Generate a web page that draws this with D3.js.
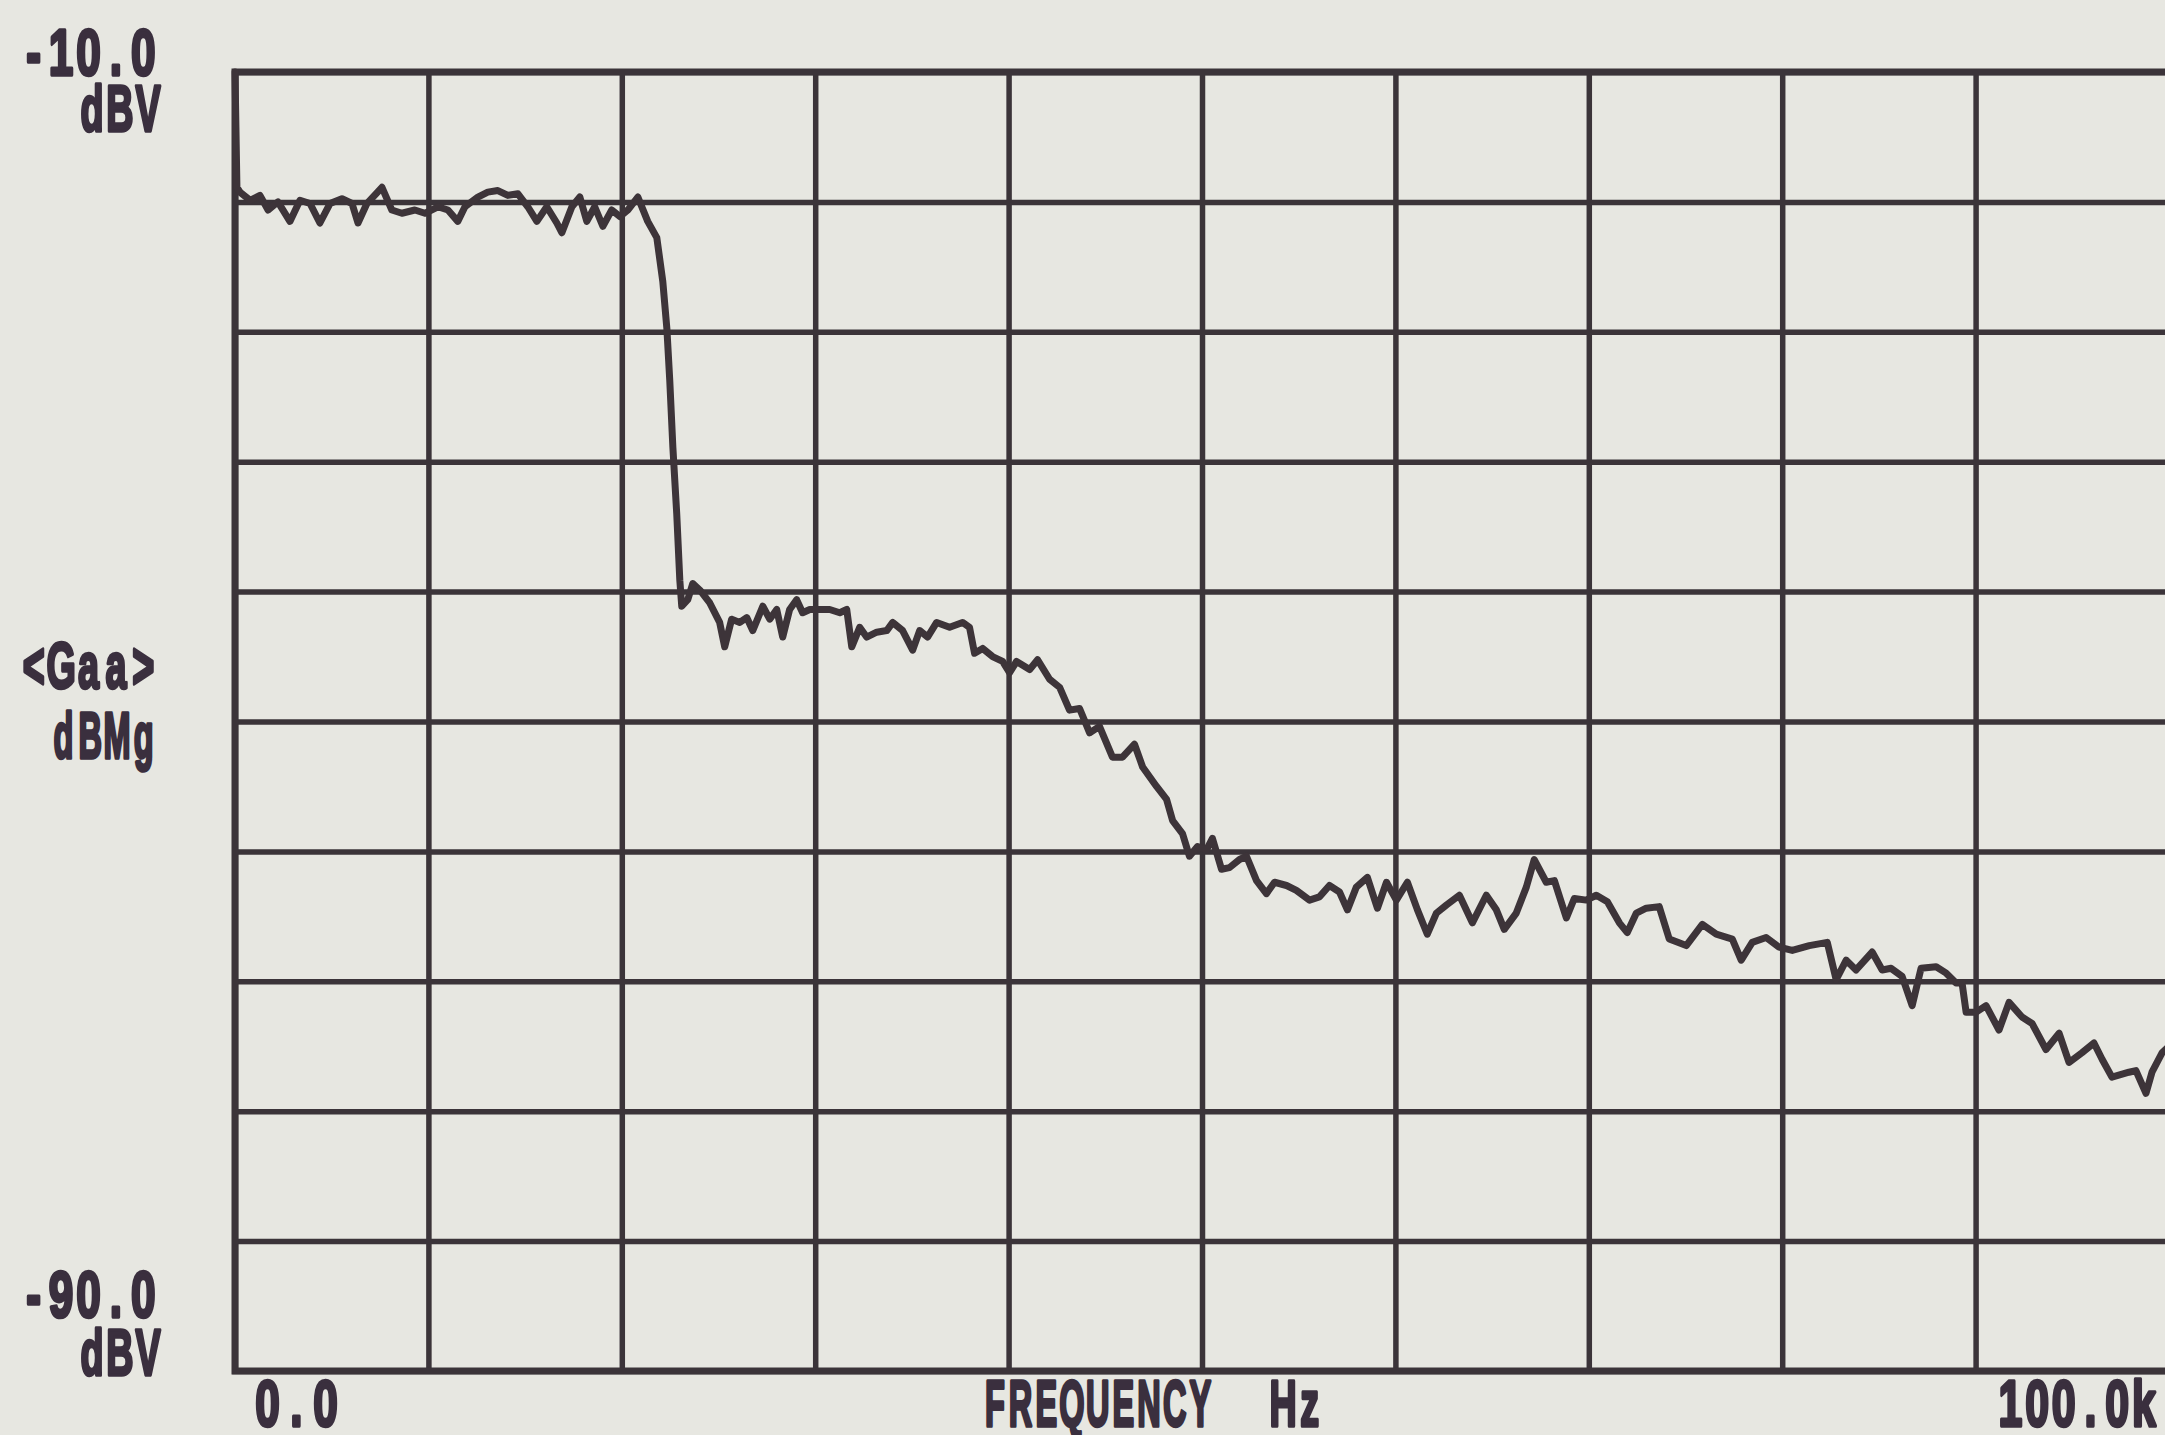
<!DOCTYPE html>
<html>
<head>
<meta charset="utf-8">
<script src="https://cdn.jsdelivr.net/npm/d3@7"></script>
<style>
  html, body { margin: 0; padding: 0; background: #e7e7e1; overflow: hidden; }
  svg { display: block; }
</style>
</head>
<body>
<script>
// ---- data ----
const freqKHz = [
  0.00, 0.10, 0.26, 0.78, 1.29, 1.71, 2.22, 2.84, 3.36, 3.88, 4.39, 4.91, 5.53, 6.05, 6.36, 6.82,
  7.60, 8.11, 8.63, 9.30, 9.82, 10.49, 11.01, 11.52, 11.89, 12.56, 13.07, 13.59, 14.11, 14.63,
  15.14, 15.61, 16.12, 16.64, 16.90, 17.42, 17.83, 18.19, 18.60, 19.02, 19.48, 19.90, 20.31,
  20.83, 21.34, 21.81, 22.12, 22.33, 22.48, 22.64, 22.84, 23.00, 23.10, 23.41, 23.67, 24.03,
  24.55, 25.06, 25.32, 25.68, 26.10, 26.46, 26.77, 27.29, 27.65, 28.01, 28.32, 28.68, 29.04,
  29.35, 29.72, 30.23, 30.75, 31.27, 31.63, 31.89, 32.30, 32.66, 33.18, 33.70, 34.01, 34.52,
  35.04, 35.40, 35.81, 36.28, 36.95, 37.62, 37.98, 38.24, 38.66, 39.17, 39.69, 40.05, 40.41,
  41.09, 41.50, 42.12, 42.64, 43.15, 43.67, 44.19, 44.70, 45.37, 45.89, 46.51, 46.93, 47.65,
  48.17, 48.48, 48.99, 49.35, 49.77, 50.23, 50.54, 51.01, 51.42, 51.94, 52.30, 52.82, 53.33,
  53.75, 54.37, 54.88, 55.56, 56.07, 56.59, 57.11, 57.52, 57.98, 58.55, 59.07, 59.54, 60.05,
  60.62, 61.14, 61.65, 62.12, 62.64, 63.31, 63.98, 64.70, 65.22, 65.63, 66.25, 66.77, 67.18,
  67.80, 68.22, 68.84, 69.25, 69.87, 70.39, 70.96, 71.58, 71.99, 72.46, 72.97, 73.64, 74.16,
  75.04, 75.87, 76.59, 77.42, 77.88, 78.45, 79.17, 79.84, 80.52, 81.40, 82.33, 82.79, 83.31,
  83.82, 84.65, 85.17, 85.63, 86.20, 86.72, 87.18, 87.96, 88.48, 88.99, 89.30, 89.51, 90.03,
  90.54, 91.21, 91.73, 92.40, 92.92, 93.64, 94.32, 94.83, 95.50, 96.12, 96.54, 97.05, 97.93,
  98.29, 98.81, 99.12, 99.64, 100.00
];
const levelDB = [
  -10.0, -17.1, -17.4, -17.9, -17.6, -18.5, -18.0, -19.2, -17.9, -18.1, -19.3, -18.1, -17.8, -18.1, -19.3, -18.1,
  -17.1, -18.5, -18.7, -18.5, -18.7, -18.3, -18.5, -19.2, -18.3, -17.7, -17.4, -17.3, -17.6, -17.5,
  -18.3, -19.2, -18.3, -19.3, -19.9, -18.3, -17.7, -19.2, -18.3, -19.5, -18.5, -18.9, -18.5,
  -17.7, -19.2, -20.2, -22.9, -25.8, -29.0, -33.1, -37.2, -41.3, -42.9, -42.5, -41.5, -41.9,
  -42.7, -43.9, -45.4, -43.7, -43.9, -43.6, -44.4, -42.9, -43.7, -43.1, -44.8, -43.1, -42.5,
  -43.3, -43.1, -43.1, -43.1, -43.3, -43.1, -45.4, -44.2, -44.8, -44.5, -44.4, -43.9, -44.4,
  -45.6, -44.4, -44.8, -43.9, -44.2, -43.9, -44.2, -45.8, -45.5, -46.0, -46.3, -47.0, -46.3,
  -46.8, -46.2, -47.4, -47.9, -49.3, -49.2, -50.7, -50.3, -52.2, -52.2, -51.4, -52.8, -54.0,
  -54.8, -56.1, -56.9, -58.3, -57.7, -57.9, -57.2, -59.1, -59.0, -58.5, -58.3, -59.8, -60.6,
  -59.9, -60.1, -60.4, -61.0, -60.8, -60.1, -60.5, -61.6, -60.2, -59.6, -61.5, -59.9, -61.0,
  -59.9, -61.6, -63.1, -61.8, -61.3, -60.7, -62.4, -60.7, -61.6, -62.8, -61.8, -60.2, -58.5,
  -59.9, -59.8, -62.1, -60.9, -61.0, -60.7, -61.1, -62.4, -63.0, -61.8, -61.5, -61.4, -63.4,
  -63.8, -62.5, -63.1, -63.4, -64.7, -63.6, -63.3, -63.9, -64.1, -63.8, -63.6, -65.9, -64.7,
  -65.3, -64.2, -65.3, -65.2, -65.7, -67.5, -65.2, -65.1, -65.5, -66.1, -66.1, -67.9, -67.9,
  -67.5, -69.0, -67.3, -68.2, -68.6, -70.2, -69.2, -71.0, -70.4, -69.8, -70.8, -71.9, -71.6,
  -71.5, -72.9, -71.6, -70.4, -70.0
];
const xGridKHz = [0, 10, 20, 30, 40, 50, 60, 70, 80, 90, 100];
const yGridDB = [-10, -18, -26, -34, -42, -50, -58, -66, -74, -82, -90];
const yTopLabel = ["-10.0", "dBV"];
const yBottomLabel = ["-90.0", "dBV"];
const yAxisTitle = ["<Gaa>", "dBMg"];
const xStartLabel = "0.0";
const xEndLabel = "100.0k";
const xAxisTitle = ["FREQUENCY", "Hz"];

// ---- drawing ----
const W = 2165, H = 1435;
const plot = { left: 235, right: 2169, top: 72, bottom: 1371 };
const ink = "#3b3439";
const textInk = "#3a2f3e";

const svg = d3.select("body").append("svg").attr("width", W).attr("height", H);
svg.append("rect").attr("width", W).attr("height", H).attr("fill", "#e7e7e1");

const x = d3.scaleLinear().domain([0, 100]).range([plot.left, plot.right]);
const y = d3.scaleLinear().domain([-90, -10]).range([plot.bottom, plot.top]);

// grid via axes
const gx = svg.append("g").attr("transform", `translate(0,${plot.bottom})`)
  .call(d3.axisBottom(x).tickValues(xGridKHz).tickSize(-(plot.bottom - plot.top)).tickFormat(""));
const gy = svg.append("g").attr("transform", `translate(${plot.left},0)`)
  .call(d3.axisLeft(y).tickValues(yGridDB).tickSize(-(plot.right - plot.left)).tickFormat(""));
[gx, gy].forEach(g => {
  g.select(".domain").remove();
  g.selectAll(".tick line").attr("stroke", ink).attr("stroke-width", 5.5).attr("stroke-linecap", "square");
});
// heavier frame
svg.append("rect")
  .attr("x", plot.left).attr("y", plot.top)
  .attr("width", plot.right - plot.left).attr("height", plot.bottom - plot.top)
  .attr("fill", "none").attr("stroke", ink).attr("stroke-width", 7);

// trace
const pts = freqKHz.map((f, i) => [f, levelDB[i]]);
const line = d3.line().x(d => x(d[0])).y(d => y(d[1]));
svg.append("path").datum(pts)
  .attr("d", line)
  .attr("fill", "none")
  .attr("stroke", "#3d3439")
  .attr("stroke-width", 7)
  .attr("stroke-linejoin", "round")
  .attr("stroke-linecap", "round");

// labels: condensed heavy glyphs on a fixed character pitch (plotter style)
function label(txt, xLeft, yb, pitch, sx) {
  const chars = Array.from(txt);
  svg.append("text")
    .attr("transform", `translate(${xLeft},${yb}) scale(${sx},1)`)
    .attr("x", chars.map((c, i) => ((i + 0.5) * pitch / sx).toFixed(1)).join(" "))
    .attr("text-anchor", "middle")
    .attr("font-family", "Liberation Sans, Arial, sans-serif")
    .attr("font-weight", "bold")
    .attr("font-size", 65)
    .attr("fill", textInk)
    .attr("stroke", textInk)
    .attr("stroke-width", 3.5)
    .attr("stroke-linejoin", "round")
    .text(txt);
}
label(yTopLabel[0], 20, 75, 27.4, 0.68);
label(yTopLabel[1], 78, 131, 28, 0.58);
label(yAxisTitle[0], 20, 688, 27.4, 0.58);
label(yAxisTitle[1], 50, 758, 26.8, 0.5);
label(yBottomLabel[0], 20, 1317, 27.4, 0.68);
label(yBottomLabel[1], 78, 1375, 28, 0.58);
label(xStartLabel, 253, 1426, 29, 0.68);
label(xAxisTitle[0], 982, 1426, 25.7, 0.5);
label(xAxisTitle[1], 1270, 1426, 26.5, 0.58);
label(xEndLabel, 1997, 1426, 26.7, 0.66);
</script>
</body>
</html>
